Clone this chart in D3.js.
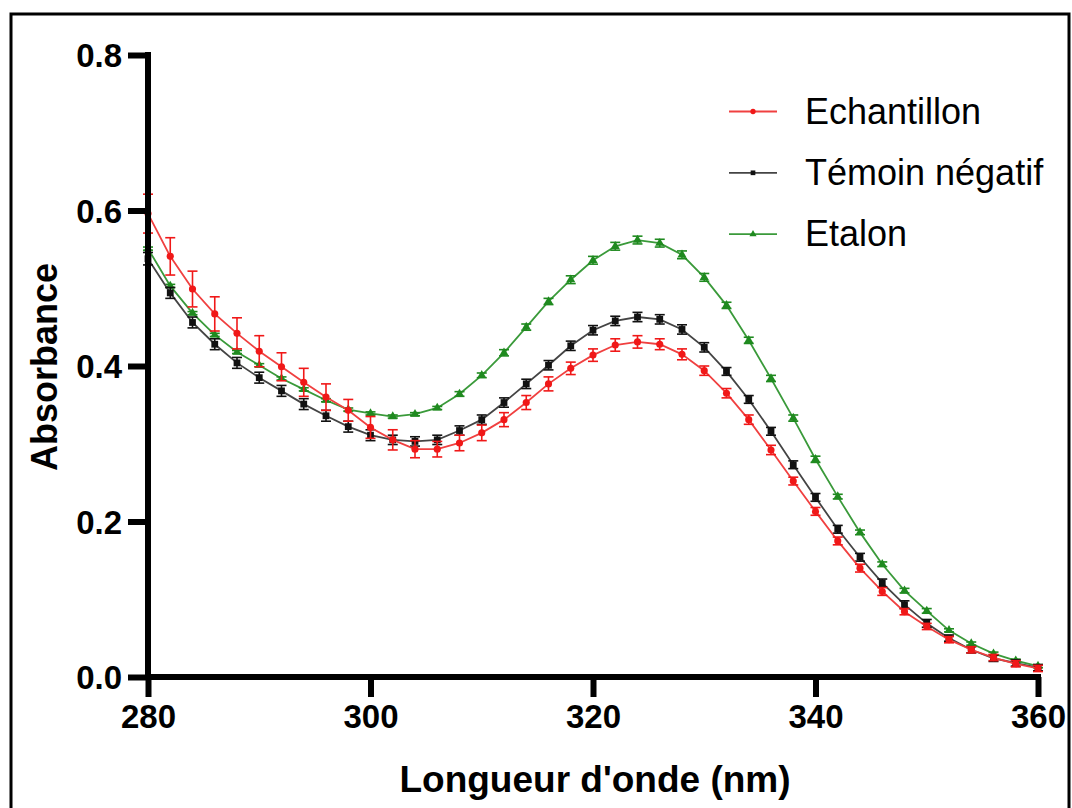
<!DOCTYPE html>
<html><head><meta charset="utf-8">
<script src="https://cdn.jsdelivr.net/npm/d3@7"></script>
<style>body{margin:0;background:#fff}svg{display:block}</style>
</head><body>
<svg id="chart" width="1072" height="808"></svg>
<script>
const wavelengths = [280,282,284,286,288,290,292,294,296,298,300,302,304,306,308,310,312,314,316,318,320,322,324,326,328,330,332,334,336,338,340,342,344,346,348,350,352,354,356,358,360];
const echantillon = [0.596,0.541,0.499,0.467,0.442,0.419,0.399,0.379,0.360,0.343,0.321,0.305,0.293,0.293,0.301,0.314,0.331,0.353,0.377,0.397,0.414,0.427,0.431,0.428,0.415,0.394,0.365,0.331,0.292,0.252,0.213,0.175,0.140,0.110,0.084,0.065,0.048,0.035,0.025,0.017,0.011];
const echantillonErr = [0.025,0.024,0.023,0.022,0.020,0.020,0.018,0.018,0.017,0.014,0.014,0.013,0.011,0.010,0.010,0.010,0.009,0.009,0.009,0.008,0.008,0.008,0.008,0.007,0.007,0.006,0.006,0.006,0.006,0.005,0.005,0.005,0.005,0.005,0.004,0.004,0.004,0.004,0.004,0.004,0.004];
const temoin = [0.538,0.494,0.456,0.428,0.404,0.385,0.368,0.351,0.336,0.322,0.311,0.305,0.303,0.305,0.317,0.331,0.353,0.377,0.401,0.426,0.446,0.458,0.463,0.460,0.447,0.424,0.393,0.357,0.316,0.273,0.231,0.190,0.154,0.121,0.093,0.069,0.050,0.035,0.024,0.018,0.012];
const temoinErr = [0.008,0.007,0.007,0.007,0.007,0.007,0.007,0.007,0.007,0.007,0.007,0.006,0.006,0.006,0.006,0.006,0.006,0.006,0.006,0.006,0.006,0.006,0.006,0.006,0.006,0.006,0.005,0.005,0.005,0.005,0.005,0.005,0.005,0.005,0.005,0.005,0.004,0.004,0.004,0.004,0.004];
const etalon = [0.551,0.503,0.468,0.440,0.418,0.401,0.384,0.370,0.356,0.344,0.339,0.335,0.338,0.346,0.364,0.388,0.417,0.450,0.483,0.511,0.536,0.554,0.562,0.558,0.543,0.514,0.478,0.433,0.384,0.333,0.280,0.232,0.186,0.145,0.111,0.085,0.060,0.043,0.030,0.021,0.014];
const etalonErr = [0.002,0.002,0.002,0.002,0.002,0.002,0.002,0.002,0.002,0.002,0.002,0.002,0.002,0.002,0.003,0.003,0.004,0.004,0.004,0.005,0.005,0.005,0.005,0.005,0.005,0.005,0.004,0.004,0.004,0.004,0.004,0.003,0.003,0.003,0.003,0.003,0.002,0.002,0.002,0.002,0.002];
const seriesNames = ["Echantillon","Témoin négatif","Etalon"];
const xTicks = [280,300,320,340,360];
const yTicks = [0,0.2,0.4,0.6,0.8];
const xTitle = "Longueur d'onde (nm)";
const yTitle = "Absorbance";

const colors = {"Echantillon":"#f01818","Témoin négatif":"#111111","Etalon":"#1f8a1f"};
const lineColors = {"Echantillon":"#f04040","Témoin négatif":"#444444","Etalon":"#3a9a3a"};
const series = [
  {name:"Etalon", values:etalon, err:etalonErr, shape:"triangle"},
  {name:"Témoin négatif", values:temoin, err:temoinErr, shape:"square"},
  {name:"Echantillon", values:echantillon, err:echantillonErr, shape:"circle"}
];

const svg = d3.select("#chart");
svg.append("rect").attr("x",11).attr("y",14).attr("width",1058).attr("height",800)
  .attr("fill","none").attr("stroke","#000").attr("stroke-width",3);

const x = d3.scaleLinear().domain([280,360]).range([148,1038]);
const y = d3.scaleLinear().domain([0,0.8]).range([677,55]);

const font = "'Liberation Sans', Arial, sans-serif";

function markerPath(shape, size){
  if(shape==="circle") return d3.symbol(d3.symbolCircle, size)();
  if(shape==="square") return d3.symbol(d3.symbolSquare, size)();
  return d3.symbol(d3.symbolTriangle, size)();
}
const markerSize = {circle:40, square:46, triangle:36};

const plot = svg.append("g");
series.forEach(s=>{
  const pts = wavelengths.map((w,i)=>({w, v:s.values[i], e:s.err[i]}));
  const g = plot.append("g");
  g.append("path").datum(pts)
    .attr("fill","none").attr("stroke",lineColors[s.name]).attr("stroke-width",1.8)
    .attr("d", d3.line().x(d=>x(d.w)).y(d=>y(d.v)));
  const eb = g.selectAll(".eb").data(pts).enter().append("g").attr("stroke",colors[s.name]).attr("stroke-width",1.6);
  eb.append("line").attr("x1",d=>x(d.w)).attr("x2",d=>x(d.w)).attr("y1",d=>y(d.v-d.e)).attr("y2",d=>y(d.v+d.e));
  eb.append("line").attr("x1",d=>x(d.w)-5).attr("x2",d=>x(d.w)+5).attr("y1",d=>y(d.v-d.e)).attr("y2",d=>y(d.v-d.e));
  eb.append("line").attr("x1",d=>x(d.w)-5).attr("x2",d=>x(d.w)+5).attr("y1",d=>y(d.v+d.e)).attr("y2",d=>y(d.v+d.e));
  g.selectAll(".m").data(pts).enter().append("path")
    .attr("d", markerPath(s.shape, markerSize[s.shape]))
    .attr("transform", d=>`translate(${x(d.w)},${y(d.v)})`)
    .attr("fill", colors[s.name]);
});

const yAxis = svg.append("g").attr("transform","translate(148,0)")
  .call(d3.axisLeft(y).tickValues(yTicks).tickFormat(d3.format(".1f")).tickSize(20).tickSizeOuter(0).tickPadding(6));
const xAxis = svg.append("g").attr("transform","translate(0,677)")
  .call(d3.axisBottom(x).tickValues(xTicks).tickFormat(d3.format("d")).tickSize(20).tickSizeOuter(0).tickPadding(8));
[xAxis,yAxis].forEach(a=>{
  a.select(".domain").attr("stroke","#000").attr("stroke-width",6);
  a.selectAll(".tick line").attr("stroke","#000").attr("stroke-width",6);
  a.selectAll(".tick text").attr("fill","#000").style("font-family",font).style("font-weight","bold").style("font-size","33px");
});
yAxis.selectAll(".tick text").attr("dy","0.36em");
yAxis.select(".domain").attr("d","M0,52V680");
xAxis.select(".domain").attr("d","M145,0H1041");

svg.append("text").attr("x",595).attr("y",792).attr("text-anchor","middle")
  .style("font-family",font).style("font-weight","bold").style("font-size","37px").text(xTitle);
svg.append("text").attr("transform","translate(57,367) rotate(-90)").attr("text-anchor","middle")
  .style("font-family",font).style("font-weight","bold").style("font-size","36px").text(yTitle);

const legendOrder = [
  {name:"Echantillon", shape:"circle"},
  {name:"Témoin négatif", shape:"square"},
  {name:"Etalon", shape:"triangle"}
];
const lg = svg.append("g");
legendOrder.forEach((l,i)=>{
  const cy = 111.5 + i*61.3;
  lg.append("line").attr("x1",729).attr("x2",777).attr("y1",cy).attr("y2",cy)
    .attr("stroke",lineColors[l.name]).attr("stroke-width",1.8);
  lg.append("path").attr("d",markerPath(l.shape, 22)).attr("transform",`translate(753,${cy})`).attr("fill",colors[l.name]);
  lg.append("text").attr("x",805).attr("y",cy+12)
    .style("font-family",font).style("font-size","36px").attr("fill","#000").text(l.name);
});
</script>
</body></html>
